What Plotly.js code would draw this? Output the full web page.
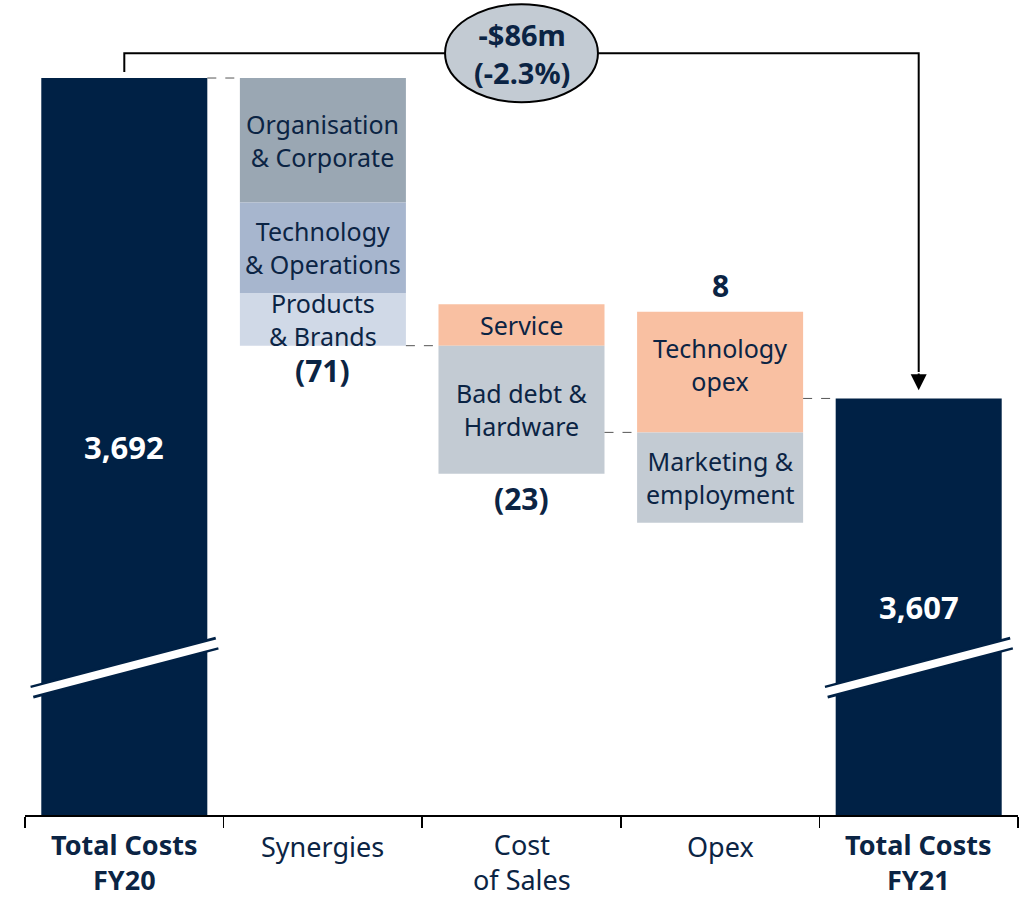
<!DOCTYPE html>
<html>
<head>
<meta charset="utf-8">
<script src="https://cdn.plot.ly/plotly-3.0.1.min.js"></script>
<style>html,body{margin:0;padding:0;background:#fff;}#chart{width:1027px;height:900px;}</style>
</head>
<body>
<div id="chart"></div>
<script>
// ---------- DATA ----------
const categories = ['Total Costs FY20', 'Synergies', 'Cost of Sales', 'Opex', 'Total Costs FY21'];
const tickLabels = ['<b>Total Costs<br>FY20</b>', 'Synergies', 'Cost<br>of Sales', 'Opex', '<b>Total Costs<br>FY21</b>'];
const totalValues = [3692, 3607];
const totalLabels = ['3,692', '3,607'];
const synergyParts = ['Organisation<br>& Corporate', 'Technology<br>& Operations', 'Products<br>& Brands'];
const synergyValues = [-33, -24, -14];
const costOfSalesParts = ['Service', 'Bad debt &<br>Hardware'];
const costOfSalesValues = [11, -34];
const opexParts = ['Technology<br>opex', 'Marketing &<br>employment'];
const opexValues = [32, -24];
const netLabels = ['(71)', '(23)', '8'];
const changeLabel = '-$86m<br>(-2.3%)';

// ---------- STYLE ----------
const NAVY = '#002145';
const TXT = '#0b2444';
const synergyColors = ['#9aa7b3', '#a7b6ce', '#d0d9e7'];
const cosColors = ['#f9c0a2', '#c3cbd3'];
const opexColors = ['#f9c0a2', '#c3cbd3'];
const FONT = '"Noto Sans", "Open Sans", sans-serif';
const yRange = [3496.5, 3712.7];
const barWidth = 0.836;
const hw = barWidth / 2;

const traces = [];
const annotations = [];
const shapes = [];
const segFont = {family: FONT, size: 25, color: TXT};

// totals
traces.push({
  type: 'bar', x: [categories[0], categories[4]], y: totalValues,
  width: barWidth, marker: {color: NAVY}, hoverinfo: 'skip'
});
[0, 4].forEach((ci, i) => {
  annotations.push({
    x: ci, y: (totalValues[i] + yRange[0]) / 2, xref: 'x', yref: 'y',
    text: '<b>' + totalLabels[i] + '</b>', showarrow: false,
    font: {family: FONT, size: 31, color: '#ffffff'}
  });
});

// synergies: stacked downward from FY20
let level = totalValues[0];
const groupEnds = [];
(function () {
  let cur = level;
  synergyValues.forEach((v, i) => {
    const top = cur, bot = cur + v;
    traces.push({type: 'bar', x: [categories[1]], y: [top - bot], base: [bot], width: barWidth,
      marker: {color: synergyColors[i]}, hoverinfo: 'skip'});
    annotations.push({x: 1, y: (top + bot) / 2, xref: 'x', yref: 'y', text: synergyParts[i],
      showarrow: false, font: segFont});
    cur = bot;
  });
  level = cur;
  groupEnds.push(cur);
})();

function splitGroup(ci, parts, values, colors) {
  const start = level;
  let upTop = start, downBot = start;
  values.forEach((v, i) => {
    let lo, hi;
    if (v >= 0) { lo = upTop; hi = upTop + v; upTop = hi; }
    else { hi = downBot; lo = downBot + v; downBot = lo; }
    traces.push({type: 'bar', x: [categories[ci]], y: [hi - lo], base: [lo], width: barWidth,
      marker: {color: colors[i]}, hoverinfo: 'skip'});
    const multi = parts[i].indexOf('<br>') >= 0;
    annotations.push({x: ci, y: (hi + lo) / 2, xref: 'x', yref: 'y', text: parts[i],
      yshift: (v > 0 && multi) ? 8 : 0, showarrow: false, font: segFont});
  });
  level = start + values.reduce((a, b) => a + b, 0);
  groupEnds.push(level);
  return {upTop, downBot, start};
}
const cosG = splitGroup(2, costOfSalesParts, costOfSalesValues, cosColors);
const opexG = splitGroup(3, opexParts, opexValues, opexColors);

// net labels
const netFont = {family: FONT, size: 30, color: TXT};
const synBottom = totalValues[0] + synergyValues.reduce((a, b) => a + b, 0);
annotations.push({x: 1, y: synBottom, xref: 'x', yref: 'y', yanchor: 'top', yshift: -2,
  text: '<b>' + netLabels[0] + '</b>', showarrow: false, font: netFont});
annotations.push({x: 2, y: cosG.downBot, xref: 'x', yref: 'y', yanchor: 'top', yshift: -2,
  text: '<b>' + netLabels[1] + '</b>', showarrow: false, font: netFont});
annotations.push({x: 3, y: opexG.upTop, xref: 'x', yref: 'y', yanchor: 'bottom', yshift: 4,
  text: '<b>' + netLabels[2] + '</b>', showarrow: false, font: netFont});

// dashed connectors
const connLevels = [totalValues[0], groupEnds[0], groupEnds[1], totalValues[1]];
connLevels.forEach((lv, i) => {
  shapes.push({type: 'line', xref: 'x', yref: 'y', x0: i + hw, x1: i + 1 - hw, y0: lv, y1: lv,
    line: {color: '#555555', width: 1, dash: 'dash'}});
});

// axis breaks
const brk = [3529.1, 3542.1];
[0, 4].forEach(ci => {
  shapes.push({type: 'line', xref: 'x', yref: 'y', x0: ci - 0.465, x1: ci + 0.467, y0: brk[0], y1: brk[1],
    line: {color: NAVY, width: 13}, layer: 'above'});
  shapes.push({type: 'line', xref: 'x', yref: 'y', x0: ci - 0.47, x1: ci + 0.472, y0: brk[0], y1: brk[1],
    line: {color: '#ffffff', width: 8}, layer: 'above'});
});

// bracket with change
const brY = totalValues[0] + 6.6;
shapes.push({type: 'path', xref: 'x', yref: 'y',
  path: `M 0 ${totalValues[0] + 1.6} L 0 ${brY} L 4 ${brY} L 4 ${totalValues[1] + 7}`,
  line: {color: '#000000', width: 2}});
annotations.push({x: 4, y: totalValues[1] + 2.2, xref: 'x', yref: 'y', ax: 4, ay: totalValues[1] + 7,
  axref: 'x', ayref: 'y', text: '', showarrow: true, arrowhead: 2, arrowsize: 1.6, arrowwidth: 2,
  arrowcolor: '#000000'});
shapes.push({type: 'circle', xref: 'x', yref: 'y', x0: 1.615, x1: 2.385, y0: brY - 13, y1: brY + 13,
  fillcolor: '#c3cbd3', line: {color: '#000000', width: 2}, layer: 'above'});
annotations.push({x: 2, y: brY, xref: 'x', yref: 'y', text: '<b>' + changeLabel + '</b>', showarrow: false,
  font: {family: FONT, size: 29, color: TXT}});

// category labels (below axis)
tickLabels.forEach((lbl, ci) => {
  const multi = lbl.indexOf('<br>') >= 0;
  annotations.push(multi ?
    {x: ci, y: 0, xref: 'x', yref: 'paper', yanchor: 'bottom', yshift: -85, text: lbl, showarrow: false,
     font: {family: FONT, size: 27, color: TXT}} :
    {x: ci, y: 0, xref: 'x', yref: 'paper', yanchor: 'middle', yshift: -31, text: lbl, showarrow: false,
     font: {family: FONT, size: 27, color: TXT}});
});

const layout = {
  width: 1027, height: 900,
  margin: {l: 25, r: 9, t: 0, b: 85},
  barmode: 'overlay', showlegend: false,
  paper_bgcolor: '#ffffff', plot_bgcolor: '#ffffff',
  xaxis: {
    type: 'category', categoryorder: 'array', categoryarray: categories,
    showticklabels: false,
    tickson: 'boundaries', ticks: 'outside', ticklen: 11, tickcolor: '#000', tickwidth: 1.5,
    showline: true, linecolor: '#000', linewidth: 1.5, showgrid: false, zeroline: false,
    range: [-0.5, 4.5]
  },
  yaxis: {range: yRange, visible: false, showgrid: false, zeroline: false},
  shapes: shapes, annotations: annotations
};
Plotly.newPlot('chart', traces, layout, {displayModeBar: false, staticPlot: true});
</script>
</body>
</html>
